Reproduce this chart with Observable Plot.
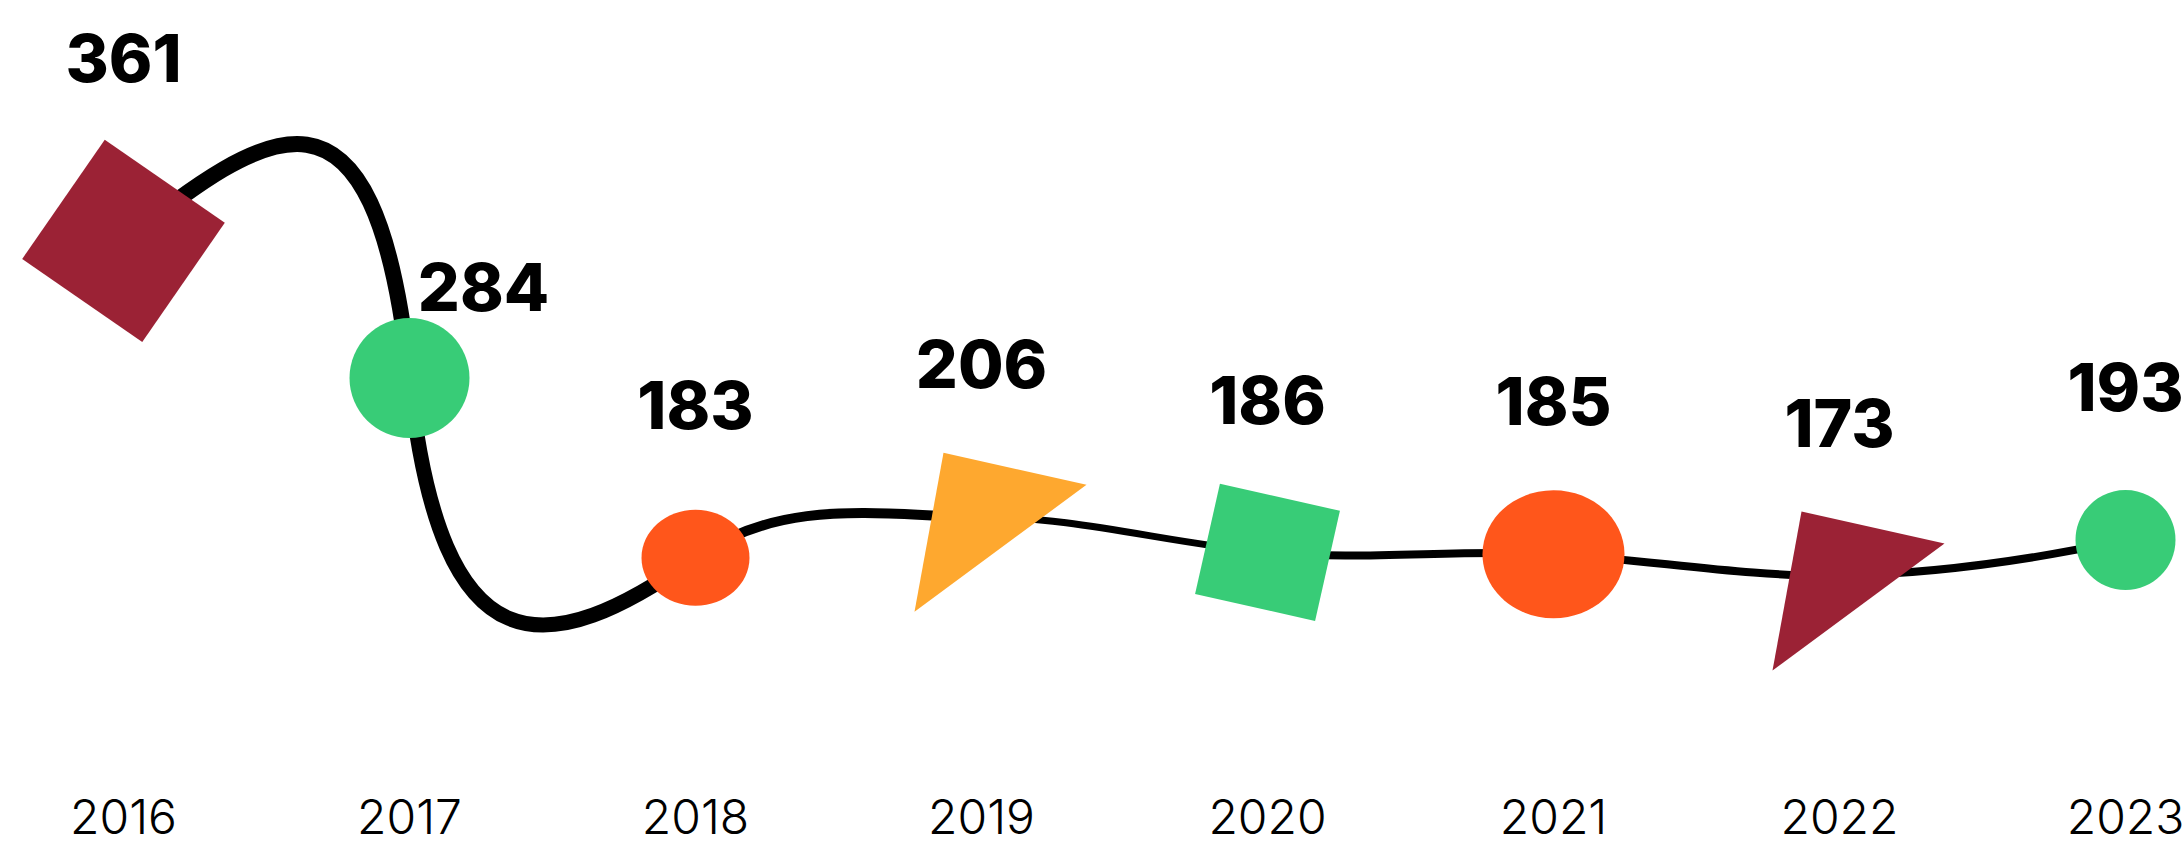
<!DOCTYPE html>
<html>
<head>
<meta charset="utf-8">
<script src="https://cdn.jsdelivr.net/npm/d3@7"></script>
<script src="https://cdn.jsdelivr.net/npm/@observablehq/plot@0.6"></script>
<style>
  html, body { margin: 0; padding: 0; background: #ffffff; }
  #chart svg { display: block; }
</style>
</head>
<body>
<div id="chart"></div>
<script>
// ---- data ----
const years  = ["2016", "2017", "2018", "2019", "2020", "2021", "2022", "2023"];
const values = [361, 284, 183, 206, 186, 185, 173, 193];

// ---- styles ----
const CRIMSON = "#9B2235", GREEN = "#38CC77", RED = "#FF561B", ORANGE = "#FEA82F";
const TRI = [[-38, -64], [105, -32], [-67, 95]];
const markerStyle = [
  {kind: "rect", w: 146, h: 145, rot: 34.7, fill: CRIMSON},
  {kind: "ellipse", rx: 60, ry: 60, fill: GREEN},
  {kind: "ellipse", rx: 54, ry: 48, fill: RED},
  {kind: "tri", fill: ORANGE},
  {kind: "rect", w: 123, h: 113, rot: 12.7, fill: GREEN},
  {kind: "ellipse", rx: 71, ry: 64, fill: RED},
  {kind: "tri", fill: CRIMSON},
  {kind: "ellipse", rx: 50, ry: 50, fill: GREEN}
];
// tangent direction (deg) and handle lengths of the hand-drawn curve at each point
const tangentAngle = [-38, 84, -35, 0, 5, 3, -1, -12];
const handleOut    = [180, 300, 110, 95, 95, 95, 95, 0];
const handleIn     = [0, 330, 180, 95, 95, 95, 95, 95];
const segmentWidth = [16, 15, 10, 7, 8, 8, 8];
// label nudges (annotation layout)
const labelDx = [0, 74, 0, 0, 0, 0, 0, 0];
const labelDy = [-30, 62, 0, 0, 0, 0, 0, 0];

const rows = years.map((year, i) => ({year, value: values[i], i}));

function symbolFor(s) {
  return {
    draw(ctx) {
      if (s.kind === "ellipse") {
        const k = 0.5523, rx = s.rx, ry = s.ry;
        ctx.moveTo(rx, 0);
        ctx.bezierCurveTo(rx, k * ry, k * rx, ry, 0, ry);
        ctx.bezierCurveTo(-k * rx, ry, -rx, k * ry, -rx, 0);
        ctx.bezierCurveTo(-rx, -k * ry, -k * rx, -ry, 0, -ry);
        ctx.bezierCurveTo(k * rx, -ry, rx, -k * ry, rx, 0);
        ctx.closePath();
      } else if (s.kind === "rect") {
        const a = s.rot * Math.PI / 180, c = Math.cos(a), sn = Math.sin(a);
        const pts = [[-s.w / 2, -s.h / 2], [s.w / 2, -s.h / 2], [s.w / 2, s.h / 2], [-s.w / 2, s.h / 2]]
          .map(([x, y]) => [x * c - y * sn, x * sn + y * c]);
        ctx.moveTo(...pts[0]);
        for (const p of pts.slice(1)) ctx.lineTo(...p);
        ctx.closePath();
      } else {
        ctx.moveTo(...TRI[0]);
        ctx.lineTo(...TRI[1]);
        ctx.lineTo(...TRI[2]);
        ctx.closePath();
      }
    }
  };
}

function hermite(aOut, lOut, aIn, lIn) {
  const r = Math.PI / 180;
  return (context) => {
    let pts = [];
    return {
      areaStart() {}, areaEnd() {},
      lineStart() { pts = []; },
      point(x, y) { pts.push([+x, +y]); },
      lineEnd() {
        if (pts.length < 2) return;
        const [p0, p1] = pts;
        context.moveTo(p0[0], p0[1]);
        context.bezierCurveTo(
          p0[0] + lOut * Math.cos(aOut * r), p0[1] + lOut * Math.sin(aOut * r),
          p1[0] - lIn * Math.cos(aIn * r), p1[1] - lIn * Math.sin(aIn * r),
          p1[0], p1[1]);
      }
    };
  };
}

const marks = [];
for (let i = 0; i < rows.length - 1; i++) {
  marks.push(Plot.line([rows[i], rows[i + 1]], {
    x: "year", y: "value", stroke: "#000", strokeWidth: segmentWidth[i],
    strokeLinecap: "round",
    curve: hermite(tangentAngle[i], handleOut[i], tangentAngle[i + 1], handleIn[i + 1])
  }));
}
rows.forEach((d, i) => {
  marks.push(Plot.dot([d], {x: "year", y: "value", r: 10, symbol: symbolFor(markerStyle[i]), fill: markerStyle[i].fill}));
});
rows.forEach((d, i) => {
  marks.push(Plot.text([d], {
    x: "year", y: "value", text: (d) => String(d.value),
    dx: labelDx[i], dy: -150 + labelDy[i], lineAnchor: "middle",
    fontSize: 66, fontWeight: 800, fill: "#000",
    fontFamily: "Inter, Roboto, 'Noto Sans', sans-serif"
  }));
});
marks.push(Plot.text(rows, {
  x: "year", text: "year", frameAnchor: "bottom", dy: -29, lineAnchor: "middle",
  fontSize: 48, fontWeight: 300, fill: "#000",
  fontFamily: "Inter, Roboto, 'Noto Sans', sans-serif"
}));

const chart = Plot.plot({
  width: 2183, height: 847,
  marginTop: 0, marginBottom: 0, marginLeft: 0, marginRight: 0,
  style: {background: "#fff", overflow: "visible"},
  x: {type: "point", domain: years, range: [120, 2128], padding: 0, axis: null},
  y: {type: "linear", domain: [100, 496], range: [705, 0], axis: null},
  marks
});
document.getElementById("chart").appendChild(chart);
</script>
</body>
</html>
